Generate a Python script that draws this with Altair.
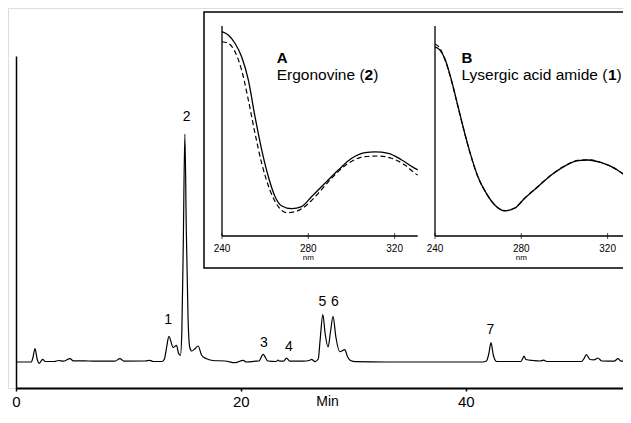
import altair as alt
import pandas as pd

FONT = "Liberation Sans"

# ---------------- Chromatogram: retention time (min) and detector signal (arbitrary units above baseline)
chrom_t = [0.0, 1.35, 1.5, 1.69, 1.88, 2.07, 2.37, 2.6, 3.4, 3.8, 4.2, 4.8, 5.1, 6.5, 8.8, 9.24, 9.6,
           11.5, 11.9, 12.2, 13.0, 13.2, 13.4, 13.6, 13.98, 14.28, 14.45, 14.62, 14.75, 14.88, 15.02,
           15.15, 15.3, 15.45, 15.62, 15.9, 16.2, 16.5, 16.9, 17.5, 18.6, 19.5, 20.2, 20.5, 21.3, 21.6,
           21.98, 22.4, 23.15, 23.3, 23.45, 23.8, 24.06, 24.35, 25.5, 26.1, 26.28, 26.6, 26.88, 27.05,
           27.29, 27.5, 27.76, 27.97, 28.2, 28.45, 28.8, 29.24, 29.5, 29.75, 30.2, 33.0, 41.5, 41.84,
           42.05, 42.25, 42.45, 42.75, 44.9, 45.05, 45.18, 45.35, 46.0, 46.6, 46.93, 47.2, 50.3, 50.5,
           50.73, 51.05, 51.4, 51.76, 52.1, 53.2, 53.54, 53.8, 54.3]
chrom_s = [0.0, 0.0, 4.0, 13.4, 3.0, -1.3, 2.7, 0.5, 0.5, 1.5, 0.8, 3.4, 1.2, 1.0, 0.8, 3.4, 0.8,
           1.0, 1.7, 0.5, 0.5, 3.0, 15.0, 25.7, 14.5, 16.7, 9.0, 6.5, 30.0, 120.0, 228.0,
           130.0, 45.0, 15.0, 11.0, 13.0, 16.0, 7.0, 3.4, 1.5, 1.0, -0.7, 1.7, 0.0, 0.8, 1.0,
           7.7, 1.0, 0.5, 2.0, 0.8, 0.8, 3.8, 0.8, 0.8, 1.5, 2.7, 0.3, 3.0, 22.0,
           47.4, 28.0, 15.0, 30.0, 45.7, 25.0, 10.3, 12.4, 5.0, 1.5, 0.3, 0.0, 0.0, 1.0,
           8.0, 19.3, 7.0, 0.5, 0.5, 3.0, 6.0, 2.5, 1.5, 1.0, 1.8, 0.5, 0.5, 3.0,
           7.3, 2.5, 2.2, 4.0, 1.0, 0.8, 3.3, 0.8, 0.8]

peak_ids = ["1", "2", "3", "4", "5", "6", "7"]
peak_label_t = [13.54, 15.17, 22.04, 24.27, 27.26, 28.36, 42.2]
peak_label_s = [42, 245, 19, 15, 60, 60, 32]
time_ticks = [0, 20, 40]

# ---------------- Inset A: Ergonovine (2) UV spectra
a_solid_nm = [240.0, 242.9, 246.0, 249.1, 252.2, 255.3, 258.4, 261.5, 264.6, 267.7, 272.3, 276.9,
              281.5, 287.7, 293.9, 300.1, 306.3, 310.9, 317.1, 323.3, 329.4, 330.7]
a_solid_abs = [0.973, 0.957, 0.918, 0.854, 0.743, 0.568, 0.410, 0.282, 0.187, 0.143, 0.130, 0.140,
               0.187, 0.251, 0.314, 0.370, 0.397, 0.401, 0.394, 0.362, 0.322, 0.315]
a_dash_nm = [240.0, 242.8, 246.0, 249.1, 252.2, 255.3, 258.4, 262.2, 266.1, 270.0, 274.6, 279.3,
             284.6, 290.8, 298.5, 306.3, 312.4, 318.6, 324.8, 329.4, 330.7]
a_dash_abs = [0.925, 0.918, 0.878, 0.790, 0.648, 0.489, 0.346, 0.219, 0.140, 0.111, 0.118, 0.148,
              0.203, 0.275, 0.346, 0.378, 0.381, 0.370, 0.338, 0.299, 0.290]

# ---------------- Inset B: Lysergic acid amide (1) UV spectra
b_nm = [240.0, 242.2, 244.5, 247.6, 250.7, 253.8, 256.8, 259.9, 263.8, 267.7, 272.3, 276.9,
        281.6, 287.7, 293.9, 300.1, 306.3, 310.9, 317.1, 323.3, 329.4, 330.7]
b_solid_abs = [0.901, 0.886, 0.846, 0.743, 0.616, 0.489, 0.378, 0.282, 0.203, 0.148, 0.120, 0.132,
               0.180, 0.235, 0.290, 0.333, 0.359, 0.362, 0.349, 0.322, 0.280, 0.272]
b_dash_abs = [0.914, 0.895, 0.842, 0.740, 0.612, 0.487, 0.376, 0.281, 0.203, 0.148, 0.121, 0.133,
              0.181, 0.236, 0.291, 0.334, 0.360, 0.363, 0.350, 0.322, 0.281, 0.273]
nm_ticks = [240, 280, 320]
nm_domain = [240, 330.7]

# ---------------- Main chromatogram
chrom_df = pd.DataFrame({"t": chrom_t, "s": chrom_s})
peak_df = pd.DataFrame({"t": peak_label_t, "s": peak_label_s, "id": peak_ids})

xs_main = alt.Scale(domain=[0, 54.7], range=[8, 623], nice=False, zero=False)
ys_main = alt.Scale(domain=[-26, 306], range=[380, 48], nice=False, zero=False)
x_axis_main = alt.Axis(values=time_ticks, title="Min", tickSize=3, tickColor="black", tickWidth=1.5,
                       domainColor="black", domainWidth=2, labelFontSize=15, labelColor="black",
                       labelPadding=3, labelFont=FONT, labelFlush=False, titleFont=FONT, titleFontSize=14,
                       titleFontWeight="normal", titleColor="black", titleX=319, titleY=17,
                       titleBaseline="alphabetic", grid=False)
y_axis_main = alt.Axis(orient="left", offset=-8, domainColor="black", domainWidth=1.5, ticks=False,
                       labels=False, title=None, grid=False)

trace = alt.Chart(chrom_df).mark_line(color="black", strokeWidth=1.2, interpolate="monotone").encode(
    x=alt.X("t:Q", scale=xs_main, axis=x_axis_main),
    y=alt.Y("s:Q", scale=ys_main, axis=y_axis_main),
)
peak_text = alt.Chart(peak_df).mark_text(font=FONT, fontSize=14, color="black", align="center",
                                         baseline="middle").encode(
    x=alt.X("t:Q", scale=xs_main, axis=x_axis_main),
    y=alt.Y("s:Q", scale=ys_main, axis=y_axis_main),
    text="id:N",
)
main = alt.layer(trace, peak_text)

frame = alt.Chart(pd.DataFrame({"k": [0]})).mark_rect(fill="white", stroke="black", strokeWidth=1.5).encode(
    x=alt.value(196), x2=alt.value(640), y=alt.value(4), y2=alt.value(260)
)


def panel(xrange, solid_nm, solid_v, dash_nm, dash_v, letter, name, digit, x_text,
          dx_digit, dx_close):
    xs = alt.Scale(domain=nm_domain, range=xrange, nice=False, zero=False)
    ys = alt.Scale(domain=[0, 1], range=[228, 18], nice=False, zero=False)
    X = lambda f: alt.X(f, scale=xs, axis=None)
    Y = lambda f: alt.Y(f, scale=ys, axis=None)

    sdf = pd.DataFrame({"nm": solid_nm, "v": solid_v})
    ddf = pd.DataFrame({"nm": dash_nm, "v": dash_v})
    solid = alt.Chart(sdf).mark_line(color="black", strokeWidth=1.3, interpolate="monotone").encode(
        x=X("nm:Q"), y=Y("v:Q"))
    dash = alt.Chart(ddf).mark_line(color="black", strokeWidth=1.2, strokeDash=[5, 3],
                                    interpolate="monotone").encode(x=X("nm:Q"), y=Y("v:Q"))

    # axis lines, ticks, tick labels
    yline = alt.Chart(pd.DataFrame({"nm": [nm_domain[0]], "v0": [0.0], "v1": [1.0]})).mark_rule(
        color="black", strokeWidth=1.3).encode(x=X("nm:Q"), y=Y("v0:Q"), y2="v1:Q")
    xline = alt.Chart(pd.DataFrame({"n0": [nm_domain[0]], "n1": [nm_domain[1]], "v": [0.0]})).mark_rule(
        color="black", strokeWidth=1.3).encode(x=X("n0:Q"), x2="n1:Q", y=Y("v:Q"))
    tdf = pd.DataFrame({"nm": nm_ticks, "v": [0.0] * len(nm_ticks), "lab": [str(t) for t in nm_ticks]})
    ticks = alt.Chart(tdf).mark_tick(orient="vertical", size=6, thickness=1, color="black").encode(
        x=X("nm:Q"), y=Y("v:Q"))
    tlabels = alt.Chart(tdf).mark_text(font=FONT, fontSize=10, color="black", align="center",
                                       baseline="alphabetic", dy=16).encode(
        x=X("nm:Q"), y=Y("v:Q"), text="lab:N")
    unit = alt.Chart(pd.DataFrame({"nm": [280], "v": [0.0], "lab": ["nm"]})).mark_text(
        font=FONT, fontSize=8, color="black", align="center", baseline="alphabetic", dy=24).encode(
        x=X("nm:Q"), y=Y("v:Q"), text="lab:N")

    letter_df = pd.DataFrame({"nm": [x_text], "v": [0.824], "txt": [letter]})
    name_df = pd.DataFrame({"nm": [x_text], "v": [0.743], "txt": [name]})
    digit_df = pd.DataFrame({"nm": [x_text], "v": [0.743], "txt": [digit]})
    close_df = pd.DataFrame({"nm": [x_text], "v": [0.743], "txt": [")"]})
    tkw = dict(font=FONT, color="black", align="left", baseline="alphabetic")
    t1 = alt.Chart(letter_df).mark_text(fontSize=15, fontWeight="bold", **tkw).encode(
        x=X("nm:Q"), y=Y("v:Q"), text="txt:N")
    t2 = alt.Chart(name_df).mark_text(fontSize=15.5, **tkw).encode(
        x=X("nm:Q"), y=Y("v:Q"), text="txt:N")
    t3 = alt.Chart(digit_df).mark_text(fontSize=15.5, fontWeight="bold", dx=dx_digit, **tkw).encode(
        x=X("nm:Q"), y=Y("v:Q"), text="txt:N")
    t4 = alt.Chart(close_df).mark_text(fontSize=15.5, dx=dx_close, **tkw).encode(
        x=X("nm:Q"), y=Y("v:Q"), text="txt:N")
    return alt.layer(yline, xline, ticks, tlabels, unit, solid, dash, t1, t2, t3, t4)


panel_a = panel([214, 409.7], a_solid_nm, a_solid_abs, a_dash_nm, a_dash_abs,
                "A", "Ergonovine (", "2", 265.35, 87.9, 96.5)
panel_b = panel([427, 622.7], b_nm, b_solid_abs, b_nm, b_dash_abs,
                "B", "Lysergic acid amide (", "1", 252.3, 146.4, 155.0)

chart = alt.layer(main, frame, panel_a, panel_b).resolve_scale(
    x="independent", y="independent"
).properties(
    width=615, height=380,
    autosize=alt.AutoSizeParams(type="none"),
    padding={"left": 0, "top": 0, "right": 0, "bottom": 22},
).configure_view(strokeWidth=0).configure(font=FONT)

chart.save("out.html", embed_options={"renderer": "svg", "actions": False})
